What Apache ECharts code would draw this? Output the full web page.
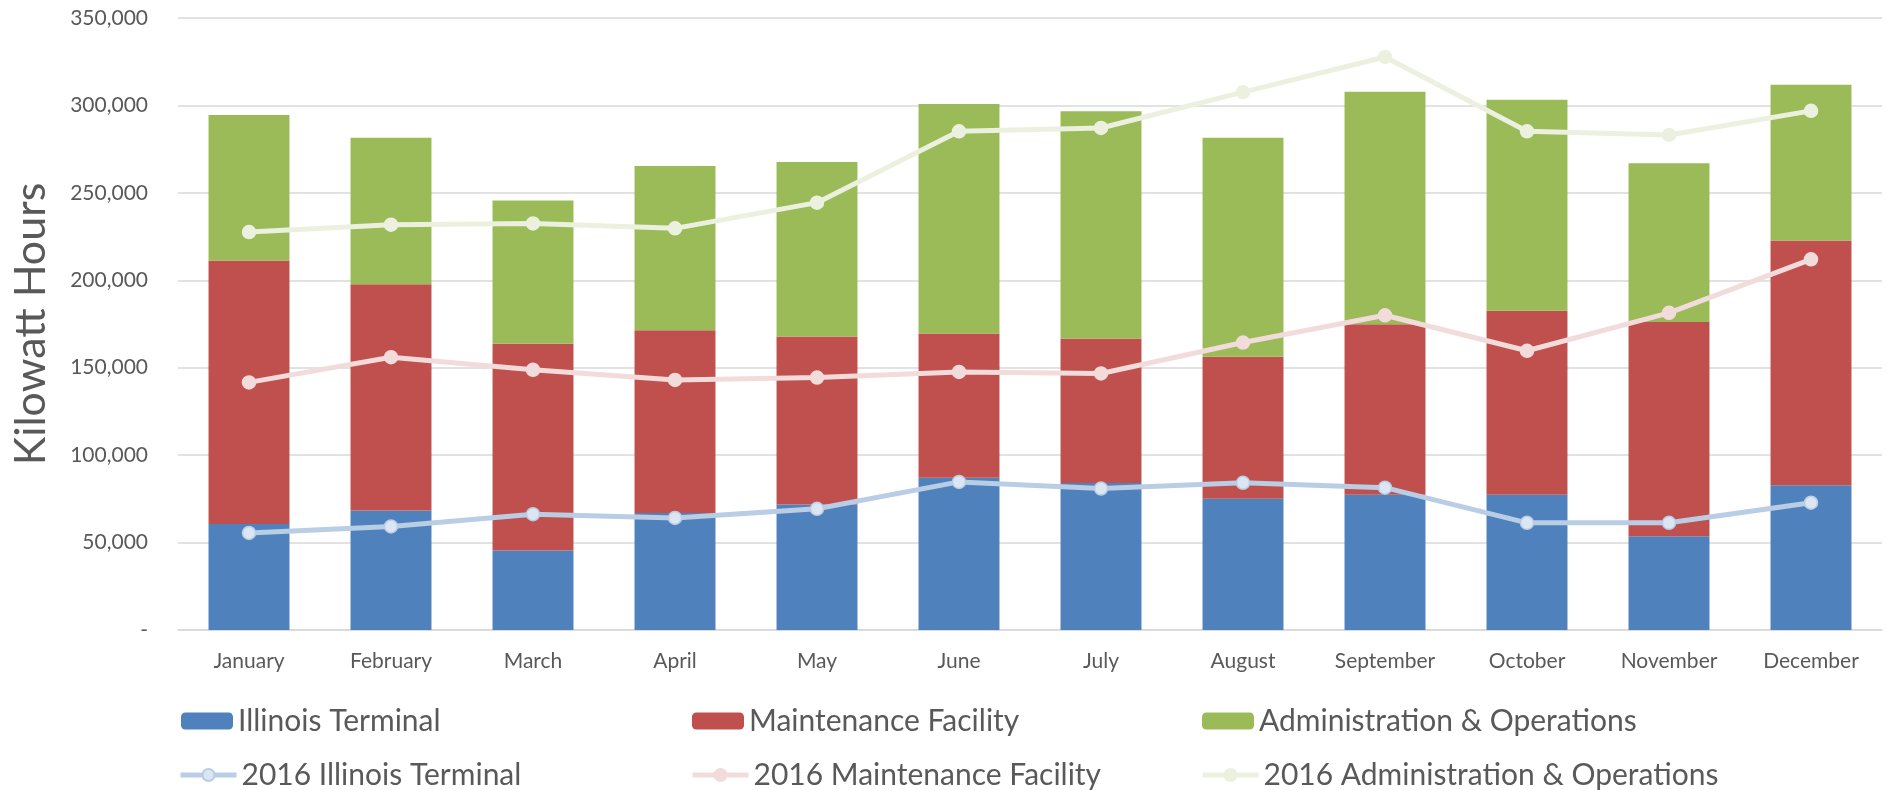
<!DOCTYPE html>
<html>
<head>
<meta charset="utf-8">
<script src="https://cdn.jsdelivr.net/npm/echarts@6/dist/echarts.min.js"></script>
<style>
  html, body { margin: 0; padding: 0; background: #fff; }
  #chart { width: 1890px; height: 790px; }
</style>
</head>
<body>
<div id="chart"></div>
<script>
const months = ['January', 'February', 'March', 'April', 'May', 'June',
    'July', 'August', 'September', 'October', 'November', 'December'];

// 2017 stacked columns (segment values)
const illinois = [60600, 68300, 45500, 66900, 71800, 87000, 84000, 75100, 77400, 77400, 53600, 82800];
const maintenance = [150700, 129500, 118200, 104500, 96100, 82500, 82700, 81100, 97500, 105200, 122500, 139900];
const admin = [83200, 83700, 81900, 94000, 99800, 131300, 129900, 125300, 132900, 120600, 90900, 89100];

// 2016 stacked lines (segment values)
const illinois2016 = [55500, 59200, 66200, 64100, 69300, 84700, 80900, 84200, 81400, 61300, 61300, 72800];
const maintenance2016 = [86100, 96800, 82600, 78900, 75100, 62900, 65800, 80200, 98600, 98400, 120100, 139200];
const admin2016 = [86000, 75800, 83700, 86700, 100000, 137600, 140400, 143200, 147700, 125500, 101700, 84900];

const yTicks = { min: 0, max: 350000, interval: 50000 };

const fontFamily = 'Lato, "Open Sans", sans-serif';
const textColor = '#595959';

function barSeries(name, data, color) {
    return {
        name: name,
        type: 'bar',
        stack: 'bars',
        barWidth: '57%',
        data: data,
        itemStyle: { color: color },
        z: 2
    };
}

function lineSeries(name, data, color, markerFill) {
    return {
        name: name,
        type: 'line',
        stack: 'lines',
        data: data,
        symbol: 'circle',
        symbolSize: 13,
        lineStyle: { color: color, width: 5 },
        itemStyle: { color: markerFill, borderColor: color, borderWidth: 1.5 },
        z: 5
    };
}

function legendAt(name, left, top, isLine) {
    return {
        data: [name],
        left: left,
        top: top,
        padding: 0,
        itemWidth: isLine ? 56 : 52,
        itemHeight: isLine ? 15 : 17,
        itemGap: 0,
        selectedMode: false,
        lineStyle: { width: 5 },
        textStyle: {
            fontFamily: fontFamily,
            fontSize: 30,
            color: textColor,
            padding: [0, 0, 0, 0],
            lineHeight: 30
        }
    };
}

const option = {
    animation: false,
    backgroundColor: '#fff',
    grid: {
        left: 178,
        right: 8,
        top: 18,
        bottom: 160
    },
    legend: [
        legendAt('Illinois Terminal', 181, 706, false),
        legendAt('Maintenance Facility', 692, 706, false),
        legendAt('Administration & Operations', 1202, 706, false),
        legendAt('2016 Illinois Terminal', 178, 760, true),
        legendAt('2016 Maintenance Facility', 690, 760, true),
        legendAt('2016 Administration & Operations', 1200, 760, true)
    ],
    xAxis: {
        type: 'category',
        data: months,
        axisLine: { lineStyle: { color: '#D9D9D9', width: 1.5 } },
        axisTick: { show: false },
        axisLabel: {
            fontFamily: fontFamily,
            fontSize: 21,
            color: textColor,
            margin: 21
        }
    },
    yAxis: {
        type: 'value',
        min: yTicks.min,
        max: yTicks.max,
        interval: yTicks.interval,
        name: 'Kilowatt Hours',
        nameLocation: 'middle',
        nameGap: 125,
        nameTextStyle: {
            fontFamily: fontFamily,
            fontSize: 43,
            color: textColor
        },
        axisLine: { show: false },
        axisTick: { show: false },
        splitLine: { lineStyle: { color: '#D9D9D9', width: 1.5 } },
        axisLabel: {
            fontFamily: fontFamily,
            fontSize: 21,
            color: textColor,
            margin: 30,
            formatter: function (v) {
                return v === 0 ? '-' : v.toLocaleString('en-US');
            }
        }
    },
    series: [
        barSeries('Illinois Terminal', illinois, '#4F81BD'),
        barSeries('Maintenance Facility', maintenance, '#C0504D'),
        barSeries('Administration & Operations', admin, '#9BBB59'),
        lineSeries('2016 Illinois Terminal', illinois2016, '#B9CDE5', '#DCE6F2'),
        lineSeries('2016 Maintenance Facility', maintenance2016, '#F2DCDB', '#F2DCDB'),
        lineSeries('2016 Administration & Operations', admin2016, '#EBF1DE', '#EBF1DE')
    ]
};

const chart = echarts.init(document.getElementById('chart'));
chart.setOption(option);
</script>
</body>
</html>
